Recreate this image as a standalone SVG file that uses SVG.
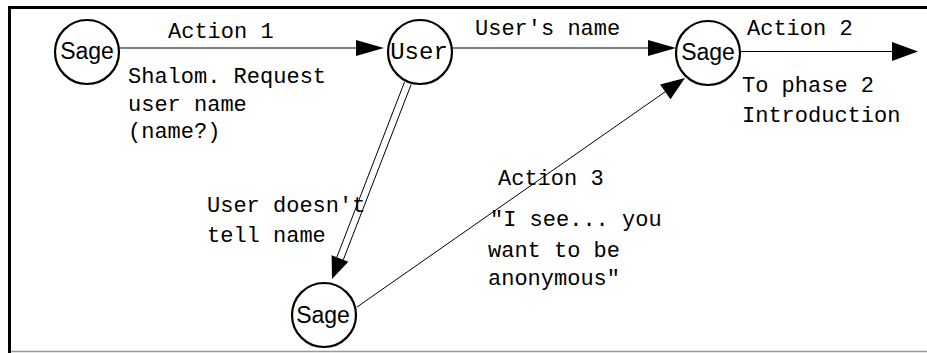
<svg xmlns="http://www.w3.org/2000/svg" width="927" height="353" viewBox="0 0 927 353">
  <style>
    .node { fill: #ffffff; stroke: #000000; stroke-width: 2.2; }
    .lbl-sans { font-family: "Liberation Sans", Arial, sans-serif; font-size: 23px; fill: #000; }
    .lbl-mono { font-family: "Liberation Mono", "Courier New", monospace; font-size: 22px; fill: #000; }
    .user { font-size: 24px; }
    .edge { stroke: #000000; stroke-width: 1; fill: none; }
    .head { fill: #000000; stroke: none; }
  </style>

  <!-- frame -->
  <rect x="0" y="0" width="927" height="353" fill="#ffffff"/>
  <path d="M9.5 353 V7.5 H927" fill="none" stroke="#000" stroke-width="3"/>
  <line x1="11" y1="351.5" x2="927" y2="351.5" stroke="#999" stroke-width="1.5"/>

  <!-- connectors -->
  <g id="connectors">
    <!-- Sage -> User (Action 1) -->
    <line class="edge" x1="119" y1="48" x2="358" y2="48"/>
    <polygon class="head" points="384,48 356,40 356,56"/>
    <!-- User -> Sage (User's name) -->
    <line class="edge" x1="452" y1="48" x2="650" y2="48"/>
    <polygon class="head" points="676,48 648,40 648,56"/>
    <!-- Sage -> phase 2 (Action 2) -->
    <line class="edge" x1="741" y1="51.5" x2="893" y2="51.5"/>
    <polygon class="head" points="918,51.5 892,42 892,61"/>
    <!-- User -> Sage (user doesn't tell name), double line -->
    <line class="edge" x1="404.5" y1="82" x2="336.8" y2="257.3"/>
    <line class="edge" x1="411.2" y1="84.4" x2="343.3" y2="259.8"/>
    <polygon class="head" points="332,279 331.6,255.3 348.4,261.7"/>
    <!-- Sage -> Sage (Action 3) -->
    <line class="edge" x1="357" y1="307" x2="667" y2="90.5"/>
    <polygon class="head" points="685,78 670.5,99.2 660.1,84.4"/>
  </g>

  <!-- nodes -->
  <g id="node-sage-start">
    <circle class="node" cx="87" cy="52" r="32"/>
    <text class="lbl-sans" x="87" y="59" text-anchor="middle">Sage</text>
  </g>
  <g id="node-user">
    <circle class="node" cx="420" cy="52" r="32"/>
    <text class="lbl-mono user" x="419" y="59" text-anchor="middle">User</text>
  </g>
  <g id="node-sage-named">
    <circle class="node" cx="708" cy="53" r="32"/>
    <text class="lbl-sans" x="708" y="60" text-anchor="middle">Sage</text>
  </g>
  <g id="node-sage-anon">
    <circle class="node" cx="324" cy="315" r="32"/>
    <text class="lbl-sans" x="323" y="323" text-anchor="middle">Sage</text>
  </g>

  <!-- edge labels -->
  <g id="labels" class="lbl-mono">
    <text x="168" y="38">Action 1</text>
    <text x="128" y="83">Shalom. Request</text>
    <text x="128" y="111">user name</text>
    <text x="128" y="138">(name?)</text>

    <text x="475" y="35">User's name</text>

    <text x="747" y="35">Action 2</text>
    <text x="742" y="92">To phase 2</text>
    <text x="742" y="122">Introduction</text>

    <text x="207" y="212">User doesn't</text>
    <text x="207" y="242">tell name</text>

    <text x="498" y="185">Action 3</text>
    <text x="490" y="226">"I see... you</text>
    <text x="488" y="257">want to be</text>
    <text x="488" y="285">anonymous"</text>
  </g>
</svg>
